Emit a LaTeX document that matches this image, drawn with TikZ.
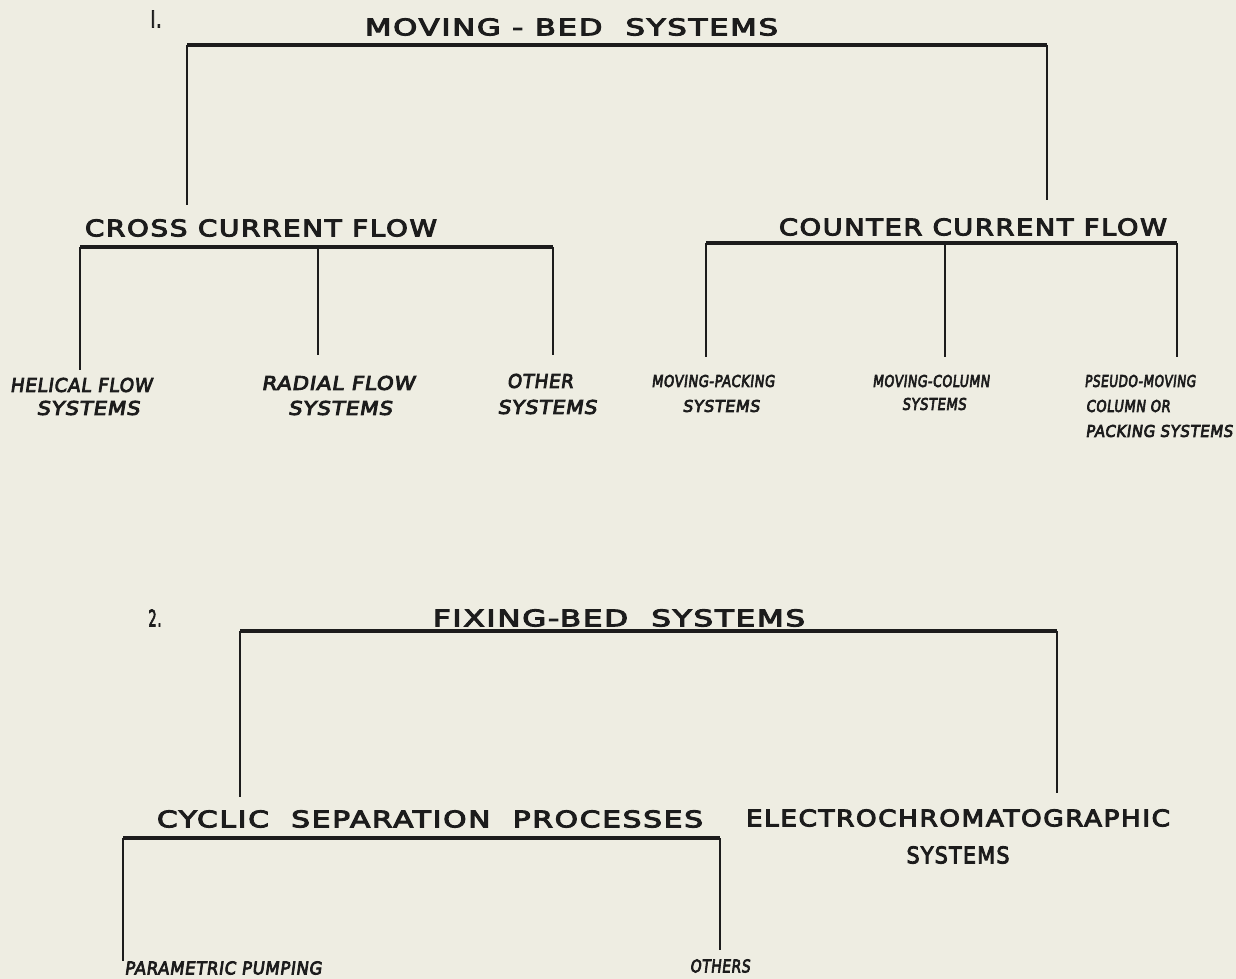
\documentclass[tikz,border=0pt]{standalone}
\usepackage{fontspec}
\setmainfont{DejaVu Sans}
\newfontfamily\headfont[LetterSpace=6,FakeBold=4]{DejaVu Sans}
\newfontfamily\leaffont[LetterSpace=4,FakeBold=4.5,FakeSlant=0.15]{DejaVu Sans}
\usepackage{graphicx}
\definecolor{paper}{RGB}{238,237,226}
\definecolor{ink}{RGB}{28,28,28}
\newcommand\fitted[3]{\resizebox{#1pt}{#2pt}{#3}}
\begin{document}
\begin{tikzpicture}[x=1pt,y=-1pt,
  lbl/.style={inner sep=0pt, outer sep=0pt, text=ink, font=\headfont},
  leaf/.style={inner sep=0pt, outer sep=0pt, text=ink, font=\leaffont},
  bar/.style={draw=ink, line width=3.4pt},
  stem/.style={draw=ink, line width=2.2pt}]
\fill[paper] (0,0) rectangle (1236,979);
\useasboundingbox (0,0) rectangle (1236,979);

% ---------- Section 1 ----------
\node[lbl] (num1) at (156,19) {\fitted{11}{17}{I.}};
\node[lbl] (moving) at (571.5,27) {\fitted{413}{17}{MOVING - BED \ SYSTEMS}};
\node[lbl] (cross) at (261,228) {\fitted{352}{17}{CROSS CURRENT FLOW}};
\node[lbl] (counter) at (973,227) {\fitted{388}{17}{COUNTER CURRENT FLOW}};

\node[leaf] (helical) at (81,385) {\fitted{142}{14}{HELICAL FLOW}};
\node[leaf] (helical2) at (88,408) {\fitted{103}{14}{SYSTEMS}};
\node[leaf] (radial) at (338,383) {\fitted{153}{14}{RADIAL FLOW}};
\node[leaf] (radial2) at (340,408) {\fitted{104}{14}{SYSTEMS}};
\node[leaf] (other) at (540,381) {\fitted{66}{14}{OTHER}};
\node[leaf] (other2) at (547,407) {\fitted{99}{14}{SYSTEMS}};

\node[leaf] (packing) at (713,381) {\fitted{123}{12}{MOVING-PACKING}};
\node[leaf] (packing2) at (721,406) {\fitted{77}{12}{SYSTEMS}};
\node[leaf] (column) at (931,381) {\fitted{117}{12}{MOVING-COLUMN}};
\node[leaf] (column2) at (934,404) {\fitted{64}{12}{SYSTEMS}};
\node[leaf] (pseudo) at (1140,381) {\fitted{111}{12}{PSEUDO-MOVING}};
\node[leaf] (pseudo2) at (1128,406) {\fitted{84}{12}{COLUMN OR}};
\node[leaf] (pseudo3) at (1159,431) {\fitted{147}{12}{PACKING SYSTEMS}};

\coordinate (m1) at (187,45);
\coordinate (m2) at (1047,45);
\draw[bar] (m1) -- (m2);
\draw[stem, shorten >=14pt] (m1) -- (m1 |- cross.north);
\draw[stem, shorten >=18.5pt] (m2) -- (m2 |- counter.north);

\coordinate (c1) at (80,247);
\coordinate (c2) at (318,247);
\coordinate (c3) at (553,247);
\draw[bar] (c1) -- (c3);
\draw[stem, shorten >=8pt] (c1) -- (c1 |- helical.north);
\draw[stem, shorten >=21pt] (c2) -- (c2 |- radial.north);
\draw[stem, shorten >=19pt] (c3) -- (c3 |- other.north);

\coordinate (k1) at (706,243);
\coordinate (k2) at (945,243);
\coordinate (k3) at (1177,243);
\draw[bar] (k1) -- (k3);
\draw[stem, shorten >=18pt] (k1) -- (k1 |- packing.north);
\draw[stem, shorten >=18pt] (k2) -- (k2 |- column.north);
\draw[stem, shorten >=18pt] (k3) -- (k3 |- pseudo.north);

% ---------- Section 2 ----------
\node[lbl] (num2) at (155,618) {\fitted{13}{17}{2.}};
\node[lbl] (fixing) at (619,618) {\fitted{372}{17}{FIXING-BED \ SYSTEMS}};
\node[lbl] (cyclic) at (430,819) {\fitted{546}{17}{CYCLIC \ SEPARATION \ PROCESSES}};
\node[lbl] (electro) at (958,818) {\fitted{424}{17}{ELECTROCHROMATOGRAPHIC}};
\node[lbl] (electro2) at (958,855) {\fitted{103}{17}{SYSTEMS}};
\node[leaf] (param) at (223,968) {\fitted{197}{13}{PARAMETRIC PUMPING}};
\node[leaf] (others) at (720,966) {\fitted{60}{13}{OTHERS}};

\coordinate (f1) at (240,631);
\coordinate (f2) at (1057,631);
\draw[bar] (f1) -- (f2);
\draw[stem, shorten >=13.5pt] (f1) -- (f1 |- cyclic.north);
\draw[stem, shorten >=16.5pt] (f2) -- (f2 |- electro.north);

\coordinate (y1) at (123,838);
\coordinate (y2) at (720,838);
\draw[bar] (y1) -- (y2);
\draw[stem] (y1) -- (y1 |- param.north);
\draw[stem, shorten >=9.5pt] (y2) -- (y2 |- others.north);
\end{tikzpicture}
\end{document}
